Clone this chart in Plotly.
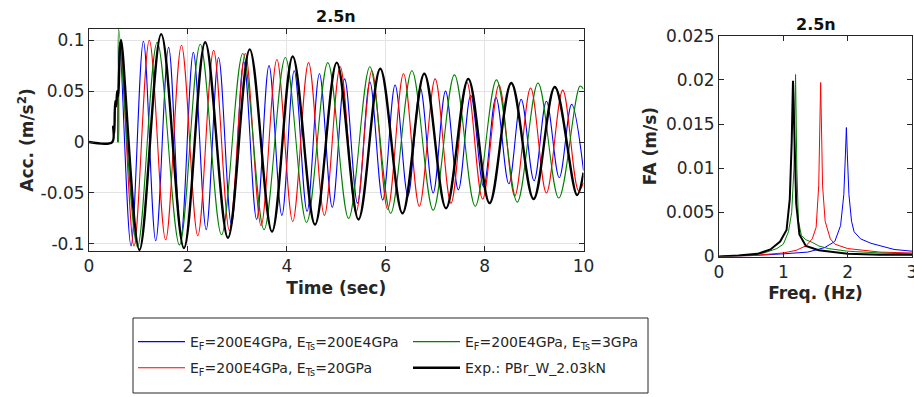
import plotly.graph_objects as go

# ---------------- time-history data (extrema) -------------
blue_t = [0.58, 0.62, 0.85, 1.10, 1.35, 1.61, 1.86, 2.11, 2.37, 2.62, 2.88, 3.13, 3.39, 3.64, 3.90,
          4.15, 4.41, 4.66, 4.92, 5.17, 5.43, 5.68, 5.94, 6.19, 6.45, 6.70, 6.96, 7.21, 7.47, 7.72,
          7.98, 8.23, 8.49, 8.74, 9.00, 9.25, 9.51, 9.76, 10.0]
blue_y = [0.0, 0.098, -0.102, 0.099, -0.097, 0.093, -0.092, 0.088, -0.086, 0.083, -0.081, 0.079,
          -0.076, 0.075, -0.072, 0.070, -0.068, 0.067, -0.064, 0.062, -0.060, 0.059, -0.057, 0.056,
          -0.053, 0.053, -0.050, 0.050, -0.047, 0.046, -0.044, 0.044, -0.041, 0.042, -0.038, 0.040,
          -0.035, 0.037, -0.028]

red_t = [0.58, 0.64, 0.91, 1.22, 1.55, 1.87, 2.20, 2.52, 2.84, 3.16, 3.48, 3.80, 4.12, 4.44, 4.76,
         5.08, 5.40, 5.72, 6.04, 6.36, 6.68, 7.00, 7.32, 7.64, 7.96, 8.29, 8.61, 8.93, 9.25, 9.58,
         9.90, 10.0]
red_y = [0.0, 0.097, -0.102, 0.100, -0.096, 0.095, -0.092, 0.090, -0.087, 0.087, -0.082, 0.081,
         -0.078, 0.078, -0.072, 0.074, -0.069, 0.070, -0.066, 0.067, -0.063, 0.062, -0.060, 0.059,
         -0.056, 0.056, -0.053, 0.053, -0.050, 0.051, -0.048, -0.040]

green_t = [0.58, 0.59, 0.60, 0.98, 1.38, 1.83, 2.25, 2.68, 3.11, 3.54, 3.97, 4.40, 4.83, 5.25,
           5.68, 6.10, 6.53, 6.96, 7.39, 7.81, 8.24, 8.66, 9.08, 9.50, 9.93, 10.0]
green_y = [0.0, 0.0, 0.111, -0.103, 0.098, -0.101, 0.096, -0.091, 0.087, -0.086, 0.083, -0.079,
           0.078, -0.075, 0.074, -0.070, 0.070, -0.067, 0.066, -0.063, 0.061, -0.059, 0.058,
           -0.055, 0.055, 0.052]

black_t = [0.0, 0.47, 0.49, 0.51, 0.53, 0.55, 0.57, 0.59, 0.61, 0.63, 0.65, 1.02, 1.46, 1.92,
           2.35, 2.81, 3.25, 3.70, 4.12, 4.57, 5.01, 5.45, 5.89, 6.34, 6.78, 7.22, 7.67, 8.10,
           8.54, 8.99, 9.42, 9.87, 10.0]
black_y = [0.0, 0.0, 0.015, 0.008, 0.040, 0.035, 0.050, 0.045, 0.070, 0.095, 0.100, -0.106, 0.106,
           -0.104, 0.098, -0.094, 0.091, -0.088, 0.084, -0.081, 0.078, -0.076, 0.072, -0.070,
           0.067, -0.065, 0.062, -0.060, 0.058, -0.056, 0.054, -0.052, -0.030]

# ---------------- Fourier amplitude data -----------------------------------------
fa_blue_f = [0.0, 0.5, 1.0, 1.38, 1.64, 1.80, 1.89, 1.94, 1.965, 1.98, 1.995, 2.02, 2.06, 2.10,
             2.20, 2.36, 2.72, 3.0]
fa_blue = [0.0, 0.0001, 0.0003, 0.0005, 0.0010, 0.0017, 0.0035, 0.0070, 0.0115, 0.0146, 0.0115,
           0.0070, 0.0040, 0.0028, 0.0020, 0.0015, 0.0008, 0.0006]

fa_red_f = [0.0, 0.5, 1.0, 1.2, 1.35, 1.45, 1.51, 1.55, 1.58, 1.61, 1.65, 1.69, 1.73, 1.80, 2.0,
            2.5, 3.0]
fa_red = [0.0, 0.0001, 0.0004, 0.0007, 0.0012, 0.0020, 0.0033, 0.0080, 0.0197, 0.0080, 0.0040,
          0.0029, 0.0020, 0.0014, 0.0009, 0.0005, 0.0004]

fa_green_f = [0.0, 0.4, 0.7, 0.9, 1.0, 1.08, 1.13, 1.165, 1.19, 1.21, 1.235, 1.28, 1.35, 1.45,
              1.55, 1.7, 2.0, 2.5, 3.0]
fa_green = [0.0, 0.0001, 0.0004, 0.0009, 0.0014, 0.0028, 0.0050, 0.0100, 0.0206, 0.0100, 0.0040,
            0.0024, 0.0019, 0.0016, 0.0012, 0.0009, 0.0006, 0.0004, 0.0003]

fa_black_f = [0.0, 0.3, 0.6, 0.8, 0.95, 1.05, 1.10, 1.13, 1.15, 1.17, 1.20, 1.25, 1.35, 1.55,
              2.0, 2.5, 3.0]
fa_black = [0.0, 0.0001, 0.0003, 0.0008, 0.0017, 0.0030, 0.0065, 0.0130, 0.0199, 0.0130, 0.0060,
            0.0025, 0.0012, 0.0007, 0.0003, 0.0002, 0.0002]

names = ["E<sub>F</sub>=200E4GPa, E<sub>Ts</sub>=200E4GPa",
         "E<sub>F</sub>=200E4GPa, E<sub>Ts</sub>=20GPa",
         "E<sub>F</sub>=200E4GPa, E<sub>Ts</sub>=3GPa",
         "Exp.: PBr_W_2.03kN"]
colors = ["#0000FF", "#FF0000", "#008000", "#000000"]

left_xticks = [0, 2, 4, 6, 8, 10]
left_yticks = [-0.1, -0.05, 0, 0.05, 0.1]
left_ytext = ["-0.1", "-0.05", "0", "0.05", "0.1"]
right_xticks = [0, 1, 2, 3]
right_yticks = [0, 0.005, 0.01, 0.015, 0.02, 0.025]
right_ytext = ["0", "0.005", "0.01", "0.015", "0.02", "0.025"]

W, H = 914, 397
FONT = "DejaVu Sans"
AX = "#262626"

fig = go.Figure()
series = [(blue_t, blue_y, fa_blue_f, fa_blue, 0, "legend"),
          (red_t, red_y, fa_red_f, fa_red, 1, "legend"),
          (green_t, green_y, fa_green_f, fa_green, 2, "legend2"),
          (black_t, black_y, fa_black_f, fa_black, 3, "legend2")]
for t, y, f, a, i, lg in series:
    wid = 2.4 if i == 3 else 1.1
    fig.add_trace(go.Scatter(x=t, y=y, mode="lines", name=names[i], legend=lg,
                             legendgroup=str(i),
                             line=dict(color=colors[i], width=wid, shape="spline", smoothing=1.0),
                             xaxis="x", yaxis="y"))
for t, y, f, a, i, lg in series:
    wid = 2.0 if i == 3 else 1.0
    fig.add_trace(go.Scatter(x=f, y=a, mode="lines", showlegend=False,
                             line=dict(color=colors[i], width=wid),
                             xaxis="x2", yaxis="y2"))

axis_common = dict(showline=True, linecolor=AX, linewidth=1, mirror="ticks", ticks="inside",
                   ticklen=5, tickcolor=AX, zeroline=False, automargin=False,
                   ticklabeloverflow="allow",
                   tickfont=dict(family=FONT, size=17, color="#262626"))
title_font = dict(family=FONT, size=17, color="#262626")

fig.update_layout(
    template="none",
    width=W, height=H, margin=dict(l=0, r=0, t=0, b=0, autoexpand=False),
    plot_bgcolor="white", paper_bgcolor="white",
    font=dict(family=FONT, color="#262626"),
    xaxis=dict(domain=[89 / W, 583.5 / W], range=[0, 10], tickvals=left_xticks,
               showgrid=True, gridcolor="#e3e3e3", anchor="y",
               title=dict(text="<b>Time (sec)</b>", font=title_font, standoff=6), **axis_common),
    yaxis=dict(domain=[1 - 251 / H, 1 - 29 / H], range=[-0.107, 0.111], tickvals=left_yticks,
               ticktext=left_ytext, showgrid=True, gridcolor="#e3e3e3", anchor="x",
               title=dict(text="<b>Acc. (m/s<sup>2</sup>)</b>", font=title_font, standoff=2),
               **axis_common),
    xaxis2=dict(domain=[719 / W, 912 / W], range=[0, 3], tickvals=right_xticks, showgrid=False,
                anchor="y2",
                title=dict(text="<b>Freq. (Hz)</b>", font=title_font, standoff=6), **axis_common),
    yaxis2=dict(domain=[1 - 256.5 / H, 1 - 35.7 / H], range=[0, 0.025], tickvals=right_yticks,
                ticktext=right_ytext, showgrid=False, anchor="x2",
                title=dict(text="<b>FA (m/s)</b>", font=title_font, standoff=4), **axis_common),
    legend=dict(x=133 / W, y=1 - 326 / H, xanchor="left", yanchor="top", orientation="v",
                bgcolor="rgba(0,0,0,0)", font=dict(family=FONT, size=14, color="#262626"),
                itemwidth=47, tracegroupgap=5),
    legend2=dict(x=408 / W, y=1 - 326 / H, xanchor="left", yanchor="top", orientation="v",
                 bgcolor="rgba(0,0,0,0)", font=dict(family=FONT, size=14, color="#262626"),
                 itemwidth=47, tracegroupgap=5),
    shapes=[dict(type="rect", xref="paper", yref="paper", x0=133 / W, x1=648 / W,
                 y0=1 - 393 / H, y1=1 - 318 / H, line=dict(color=AX, width=1),
                 fillcolor="rgba(0,0,0,0)", layer="below")],
    annotations=[
        dict(text="<b>2.5n</b>", x=336 / W, y=1 - 16 / H, xref="paper", yref="paper",
             xanchor="center", yanchor="middle",
             showarrow=False, font=dict(family=FONT, size=16, color="#111")),
        dict(text="<b>2.5n</b>", x=816 / W, y=1 - 25 / H, xref="paper", yref="paper",
             xanchor="center", yanchor="middle",
             showarrow=False, font=dict(family=FONT, size=16, color="#111")),
    ],
)

fig.write_html("out.html")
